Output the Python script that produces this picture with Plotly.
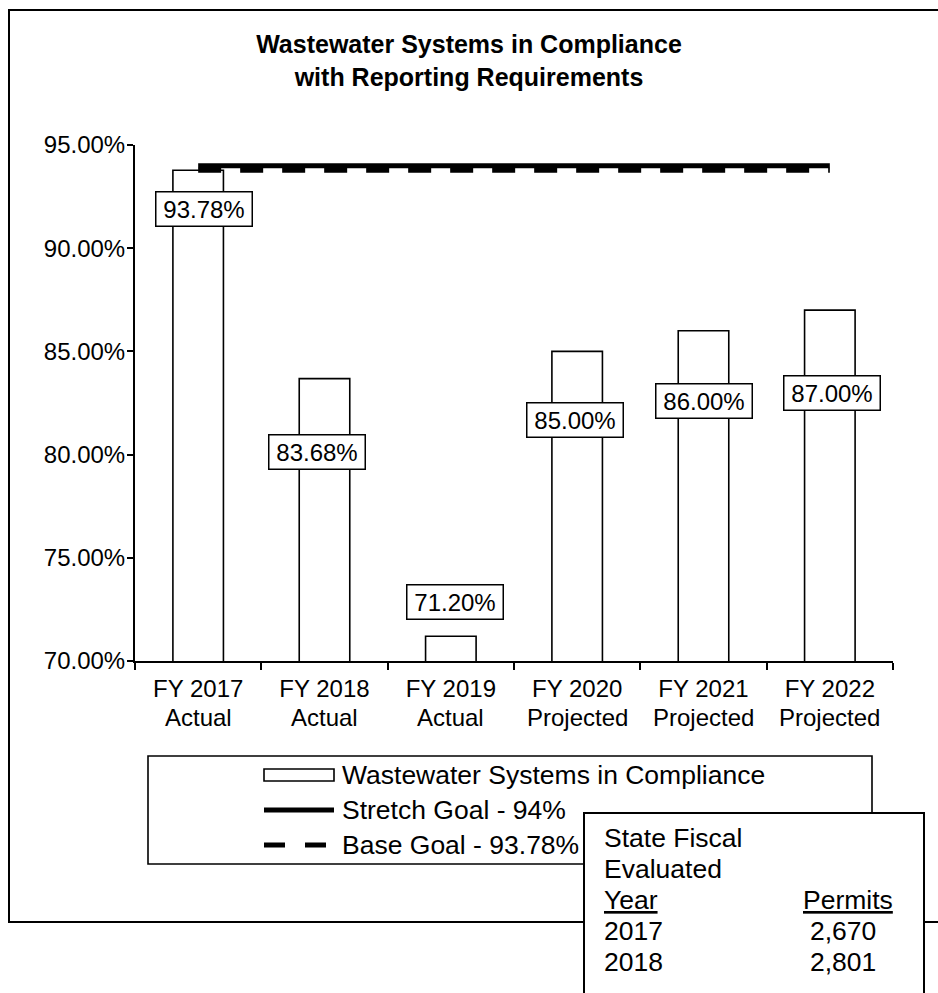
import plotly.graph_objects as go

# ---- data -------------------------------------------------------------
categories = ["FY 2017", "FY 2018", "FY 2019", "FY 2020", "FY 2021", "FY 2022"]
periods = ["Actual", "Actual", "Actual", "Projected", "Projected", "Projected"]
compliance_pct = [93.78, 83.68, 71.20, 85.00, 86.00, 87.00]
stretch_goal_pct = 94.0
base_goal_pct = 93.78
y_ticks = [70, 75, 80, 85, 90, 95]

permit_years = ["2017", "2018"]
permits_evaluated = [2670, 2801]

series_names = [
    "Wastewater Systems in Compliance",
    "Stretch Goal - 94%",
    "Base Goal - 93.78%",
]

# ---- page geometry (pixels) --------------------------------------------
FONT = "Liberation Sans, Arial, Helvetica, sans-serif"
W, H = 938, 993
L, R, T, B = 135, 45, 145, 332
PW, PH = W - L - R, H - T - B


def px(x):
    """pixel column -> paper x"""
    return (x - L) / PW


def py(y):
    """pixel row (from top) -> paper y"""
    return (H - B - y) / PH


# offsets of the value boxes relative to each bar's top (pixels)
label_yshift = [-39, -73, 34, -69, -70, -83]
label_xshift = [6, -8, 4, -2, 0, 2]

fig = go.Figure()

fig.add_trace(go.Bar(
    x=categories, y=compliance_pct, name=series_names[0],
    marker=dict(color="white", line=dict(color="black", width=1.6)),
))
fig.add_trace(go.Scatter(
    x=categories, y=[stretch_goal_pct] * len(categories), name=series_names[1],
    mode="lines", line=dict(color="black", width=5),
))
fig.add_trace(go.Scatter(
    x=categories, y=[base_goal_pct] * len(categories), name=series_names[2],
    mode="lines", line=dict(color="black", width=5, dash="23px,19px"),
))

annotations = []

# value boxes on the bars
for c, v, dy, dx in zip(categories, compliance_pct, label_yshift, label_xshift):
    annotations.append(dict(
        x=c, y=v, xref="x", yref="y", text=f"{v:.2f}%", showarrow=False,
        xshift=dx, yshift=dy, xanchor="center", yanchor="middle",
        font=dict(family=FONT, size=24, color="black"),
        bgcolor="white", bordercolor="black", borderwidth=1.5, borderpad=2,
        width=91, height=29,
    ))

# second line of the category labels (Actual / Projected)
for c, p in zip(categories, periods):
    annotations.append(dict(
        x=c, y=0, xref="x", yref="paper", text=p, showarrow=False,
        xanchor="center", yanchor="middle", yshift=-56,
        font=dict(family=FONT, size=24, color="black"),
    ))

shapes = [
    # outer chart frame
    dict(type="rect", xref="paper", yref="paper",
         x0=px(9), x1=px(990), y0=py(10), y1=py(922),
         line=dict(color="black", width=2), layer="below"),
    # legend box
    dict(type="rect", xref="paper", yref="paper",
         x0=px(148), x1=px(872), y0=py(756), y1=py(864),
         line=dict(color="black", width=1.6), fillcolor="white"),
]
legend_rows = [775, 810, 845]
sym_x0, sym_x1, text_x = 264, 334, 340
shapes.append(dict(type="rect", xref="paper", yref="paper",
                   x0=px(sym_x0), x1=px(sym_x1),
                   y0=py(legend_rows[0] - 6), y1=py(legend_rows[0] + 6),
                   line=dict(color="black", width=1.6), fillcolor="white"))
shapes.append(dict(type="line", xref="paper", yref="paper",
                   x0=px(sym_x0), x1=px(sym_x1),
                   y0=py(legend_rows[1]), y1=py(legend_rows[1]),
                   line=dict(color="black", width=5)))
shapes.append(dict(type="line", xref="paper", yref="paper",
                   x0=px(sym_x0), x1=px(sym_x1),
                   y0=py(legend_rows[2]), y1=py(legend_rows[2]),
                   line=dict(color="black", width=5, dash="21px,20px")))
for name, row in zip(series_names, legend_rows):
    annotations.append(dict(
        x=px(text_x), y=py(row), xref="paper", yref="paper", text=name,
        showarrow=False, xanchor="left", yanchor="middle",
        font=dict(family=FONT, size=26.5, color="black"),
    ))

# permits table box
shapes.append(dict(type="rect", xref="paper", yref="paper",
                   x0=px(584), x1=px(924), y0=py(813), y1=py(1010),
                   line=dict(color="black", width=2), fillcolor="white"))

table_left = ["State Fiscal", "Evaluated", "<u>Year</u>"] + permit_years
table_right = [None, None, "<u>Permits</u>"] + [f"{n:,}" for n in permits_evaluated]
row_y = [838, 869, 900, 931, 962]
for left, right, y in zip(table_left, table_right, row_y):
    annotations.append(dict(
        x=px(602), y=py(y), xref="paper", yref="paper", text=left,
        showarrow=False, xanchor="left", yanchor="middle",
        font=dict(family=FONT, size=26.5, color="black"),
    ))
    if right:
        rx = 801 if "Permits" in right else 808
        annotations.append(dict(
            x=px(rx), y=py(y), xref="paper", yref="paper", text=right,
            showarrow=False, xanchor="left", yanchor="middle",
            font=dict(family=FONT, size=26.5, color="black"),
        ))

fig.update_layout(
    width=W, height=H,
    margin=dict(l=L, r=R, t=T, b=B),
    paper_bgcolor="white", plot_bgcolor="white",
    showlegend=False,
    bargap=0.6,
    font=dict(family=FONT, color="black"),
    title=dict(
        text="<b>Wastewater Systems in Compliance<br>with Reporting Requirements</b>",
        x=0.5, xref="container", xanchor="center",
        y=1 - 53 / H, yref="container", yanchor="middle",
        font=dict(family=FONT, size=25, color="black"),
    ),
    xaxis=dict(
        type="category", categoryorder="array", categoryarray=categories,
        tickvals=categories, ticktext=categories,
        tickson="boundaries", ticks="outside", ticklen=7, tickwidth=2,
        tickcolor="black", showline=True, linecolor="black", linewidth=2,
        showgrid=False, zeroline=False, ticklabelstandoff=5,
        tickfont=dict(family=FONT, size=24, color="black"),
    ),
    yaxis=dict(
        range=[y_ticks[0], y_ticks[-1]],
        tickvals=y_ticks, ticktext=[f"{v:.2f}%" for v in y_ticks],
        ticks="outside", ticklen=6, tickwidth=2, tickcolor="black",
        showline=True, linecolor="black", linewidth=2,
        showgrid=False, zeroline=False, ticklabelstandoff=-3,
        tickfont=dict(family=FONT, size=24, color="black"),
    ),
    shapes=shapes,
    annotations=annotations,
)

fig.write_html("out.html", config={"displayModeBar": False})
